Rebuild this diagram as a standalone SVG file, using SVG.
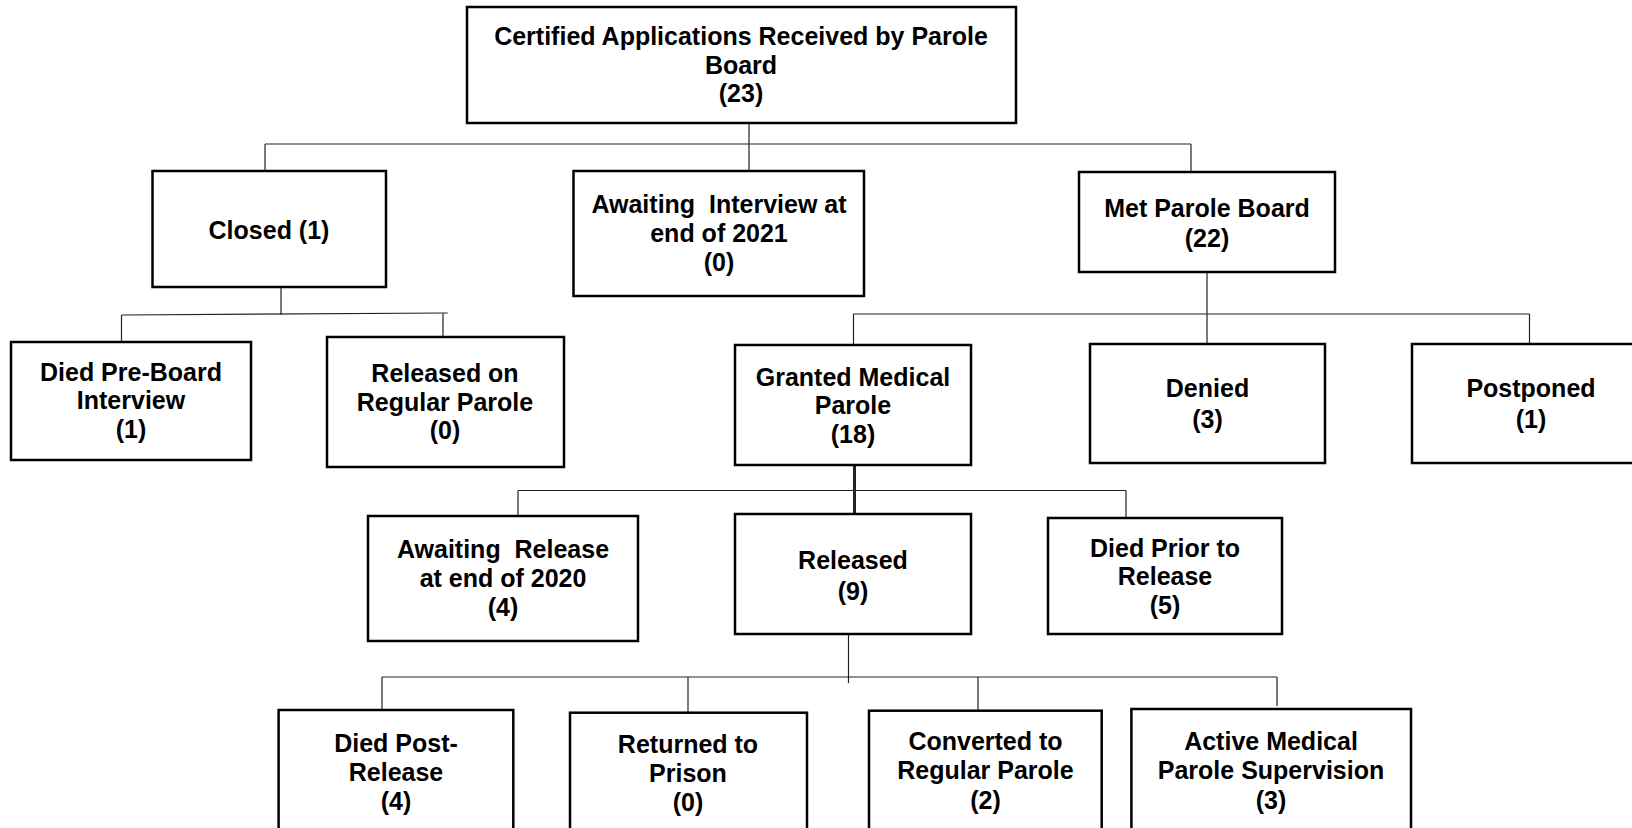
<svg xmlns="http://www.w3.org/2000/svg" width="1632" height="828" viewBox="0 0 1632 828">
<style>
.box{fill:#fff;stroke:#000;stroke-width:2.5}
.t{font-family:"Liberation Sans",Arial,sans-serif;font-weight:bold;font-size:25px;fill:#000;text-anchor:middle;white-space:pre}
.c{fill:none;stroke:#222;stroke-width:1.2}
</style>
<rect width="1632" height="828" fill="#fff"/>
<g id="connectors">
<path class="c" d="M749 123V171M265 144H1191M265 144V171M1191 144V172"/>
<path class="c" d="M281 287V315M121.5 315L447.7 313M121.5 315V344M443 313V339"/>
<path class="c" d="M1207 272V344M853.5 314H1529.5M853.5 314V345M1529.5 314V344"/>
<path d="M854.5 465V514" stroke="#222" stroke-width="3" fill="none"/>
<path class="c" d="M518 490.5H1126M518 490.5V518M1126 490.5V518"/>
<path class="c" d="M848.5 634V683M382 677H1277M382 677V710M688 677V712.7M978 677V713M1277 677V706"/>
</g>
<g id="n-top"><rect class="box" x="467" y="7" width="549" height="116"/>
<text class="t" x="741" y="45">Certified Applications Received by Parole</text>
<text class="t" x="741" y="74">Board</text>
<text class="t" x="741" y="102">(23)</text></g>
<g id="n-closed"><rect class="box" x="152.5" y="171" width="233.5" height="116"/>
<text class="t" x="269" y="239">Closed (1)</text></g>
<g id="n-awaiting-interview"><rect class="box" x="573.5" y="171" width="290.5" height="125"/>
<text class="t" x="719" y="213" xml:space="preserve">Awaiting  Interview at</text>
<text class="t" x="719" y="242">end of 2021</text>
<text class="t" x="719" y="271">(0)</text></g>
<g id="n-met"><rect class="box" x="1079" y="172" width="256" height="100"/>
<text class="t" x="1207" y="216.5">Met Parole Board</text>
<text class="t" x="1207" y="246.5">(22)</text></g>
<g id="n-died-pre"><rect class="box" x="11" y="342" width="240" height="118"/>
<text class="t" x="131" y="380.5">Died Pre-Board</text>
<text class="t" x="131" y="409">Interview</text>
<text class="t" x="131" y="437.5">(1)</text></g>
<g id="n-released-regular"><rect class="box" x="327" y="337" width="237" height="130"/>
<text class="t" x="445" y="382">Released on</text>
<text class="t" x="445" y="411">Regular Parole</text>
<text class="t" x="445" y="439">(0)</text></g>
<g id="n-granted"><rect class="box" x="735" y="345" width="236" height="120"/>
<text class="t" x="853" y="386">Granted Medical</text>
<text class="t" x="853" y="414">Parole</text>
<text class="t" x="853" y="443">(18)</text></g>
<g id="n-denied"><rect class="box" x="1090" y="344" width="235" height="119"/>
<text class="t" x="1207.5" y="397">Denied</text>
<text class="t" x="1207.5" y="428">(3)</text></g>
<g id="n-postponed"><rect class="box" x="1412" y="344" width="238" height="119"/>
<text class="t" x="1531" y="397">Postponed</text>
<text class="t" x="1531" y="428">(1)</text></g>
<g id="n-awaiting-release"><rect class="box" x="368" y="516" width="270" height="125"/>
<text class="t" x="503" y="558" xml:space="preserve">Awaiting  Release</text>
<text class="t" x="503" y="587">at end of 2020</text>
<text class="t" x="503" y="616">(4)</text></g>
<g id="n-released"><rect class="box" x="735" y="514" width="236" height="120"/>
<text class="t" x="853" y="569">Released</text>
<text class="t" x="853" y="600">(9)</text></g>
<g id="n-died-prior"><rect class="box" x="1048" y="518" width="234" height="116"/>
<text class="t" x="1165" y="556.5">Died Prior to</text>
<text class="t" x="1165" y="585">Release</text>
<text class="t" x="1165" y="613.5">(5)</text></g>
<g id="n-died-post"><rect class="box" x="278.6" y="710" width="234.7" height="140"/>
<text class="t" x="396" y="751.5">Died Post-</text>
<text class="t" x="396" y="780.5">Release</text>
<text class="t" x="396" y="810">(4)</text></g>
<g id="n-returned"><rect class="box" x="570" y="712.7" width="237" height="140"/>
<text class="t" x="688" y="753">Returned to</text>
<text class="t" x="688" y="782">Prison</text>
<text class="t" x="688" y="811">(0)</text></g>
<g id="n-converted"><rect class="box" x="869" y="710.7" width="232.7" height="140"/>
<text class="t" x="985.5" y="750">Converted to</text>
<text class="t" x="985.5" y="779">Regular Parole</text>
<text class="t" x="985.5" y="809">(2)</text></g>
<g id="n-active"><rect class="box" x="1131.4" y="709" width="279.6" height="140"/>
<text class="t" x="1271" y="750">Active Medical</text>
<text class="t" x="1271" y="779">Parole Supervision</text>
<text class="t" x="1271" y="809">(3)</text></g>
</svg>
